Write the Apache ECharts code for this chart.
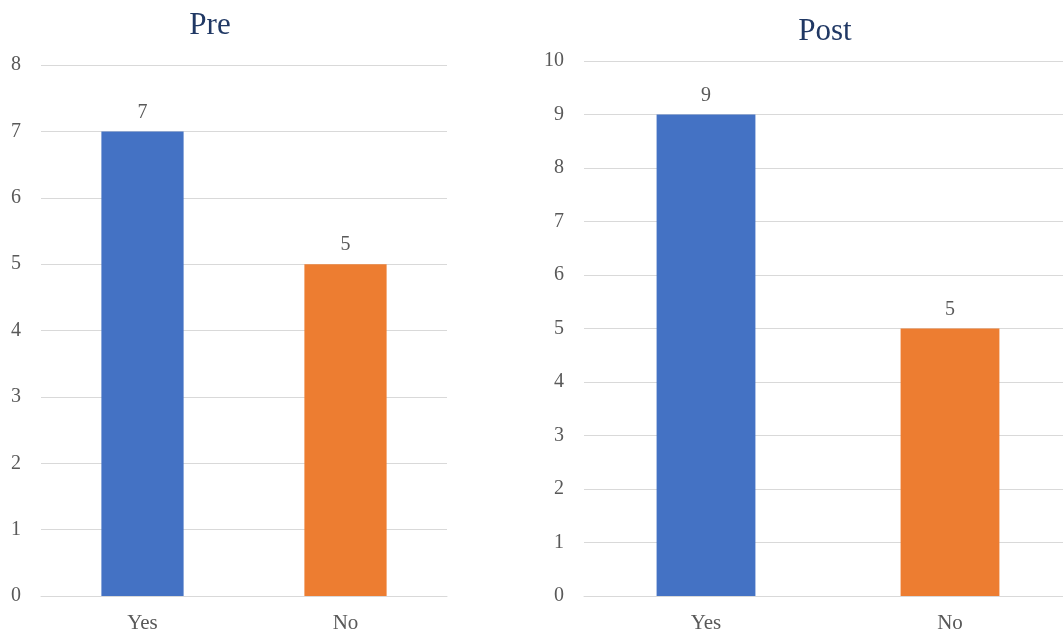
<!DOCTYPE html>
<html>
<head>
<meta charset="utf-8">
<script src="https://cdn.jsdelivr.net/npm/echarts@6/dist/echarts.min.js"></script>
<style>
  html, body { margin: 0; padding: 0; background: #fff; }
  #chart { width: 1063px; height: 637px; }
</style>
</head>
<body>
<div id="chart"></div>
<script>
// Survey answers before and after
const categories = ['Yes', 'No'];
const preValues = [7, 5];
const postValues = [9, 5];
const preTicks = { min: 0, max: 8, interval: 1 };
const postTicks = { min: 0, max: 10, interval: 1 };
const barColors = ['#4472C4', '#ED7D31'];

const FONT = '"Liberation Serif", "DejaVu Serif", serif';
const GRID_COLOR = '#d9d9d9';
const LABEL_COLOR = '#595959';

function xAxisFor(gridIndex) {
  return {
    type: 'category',
    gridIndex,
    data: categories,
    axisLine: { show: true, lineStyle: { color: GRID_COLOR, width: 1 } },
    axisTick: { show: false },
    axisLabel: { color: LABEL_COLOR, fontFamily: FONT, fontSize: 21, margin: 17 }
  };
}

function yAxisFor(gridIndex, ticks) {
  return {
    type: 'value',
    gridIndex,
    min: ticks.min,
    max: ticks.max,
    interval: ticks.interval,
    axisLine: { show: false },
    axisTick: { show: false },
    splitLine: { show: true, lineStyle: { color: GRID_COLOR, width: 1 } },
    axisLabel: { color: LABEL_COLOR, fontFamily: FONT, fontSize: 20, margin: 20 }
  };
}

function barSeries(index, values) {
  return {
    type: 'bar',
    xAxisIndex: index,
    yAxisIndex: index,
    barWidth: '40.5%',
    data: values.map((v, i) => ({ value: v, itemStyle: { color: barColors[i] } })),
    label: {
      show: true,
      position: 'top',
      distance: 9,
      color: LABEL_COLOR,
      fontFamily: FONT,
      fontSize: 20
    }
  };
}

const chart = echarts.init(document.getElementById('chart'), null, { renderer: 'canvas' });
chart.setOption({
  animation: false,
  backgroundColor: '#ffffff',
  title: [
    {
      text: 'Pre', left: 205, top: 5, textAlign: 'center',
      textStyle: { color: '#203864', fontFamily: FONT, fontSize: 31, fontWeight: 'normal' }
    },
    {
      text: 'Post', left: 820, top: 11, textAlign: 'center',
      textStyle: { color: '#203864', fontFamily: FONT, fontSize: 31, fontWeight: 'normal' }
    }
  ],
  grid: [
    { left: 41, width: 406, top: 65, bottom: 41, outerBoundsMode: 'none' },
    // the right panel's plot area runs slightly past the window edge
    { left: 584, width: 488, top: 61, bottom: 41, outerBoundsMode: 'none' }
  ],
  xAxis: [xAxisFor(0), xAxisFor(1)],
  yAxis: [yAxisFor(0, preTicks), yAxisFor(1, postTicks)],
  series: [barSeries(0, preValues), barSeries(1, postValues)]
});
</script>
</body>
</html>
